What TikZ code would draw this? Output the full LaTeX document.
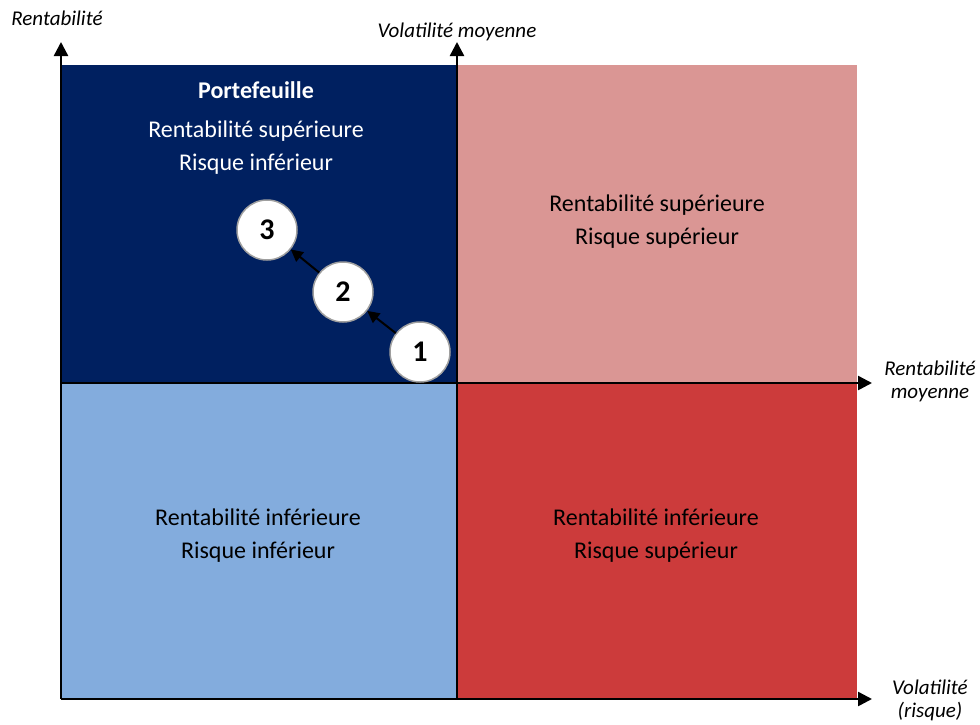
\documentclass[tikz,border=0pt]{standalone}
\usepackage{fontspec}
\setmainfont{Carlito}
\usepackage{xcolor}
\usepackage{tikz}
\usetikzlibrary{positioning, arrows.meta, calc}

\definecolor{navy}{HTML}{002060}
\definecolor{rose}{HTML}{DA9694}
\definecolor{ciel}{HTML}{83ACDD}
\definecolor{rouge}{HTML}{CC3B3B}

\begin{document}
\begin{tikzpicture}[x=1pt, y=-1pt,
  quad/.style={rectangle, inner sep=0pt, minimum width=396pt, minimum height=318pt},
  qtext/.style={align=center, font=\fontsize{24}{33}\selectfont},
  axis/.style={-{Triangle[length=14pt, width=14pt]}, line width=2.5pt},
  axlabel/.style={align=center, font=\fontsize{21}{23}\selectfont\itshape},
  etape/.style={circle, draw=gray!75, line width=1.5pt, fill=white, minimum size=60pt,
    inner sep=0pt, font=\fontsize{30}{30}\selectfont\bfseries},
  fleche/.style={-{Triangle[length=12pt, width=12pt]}, line width=2pt}
]
  \useasboundingbox (0,0) rectangle (980,724);

  % quadrants
  \node[quad, fill=navy] (tl) at (259,224) {};
  \node[quad, fill=rose, minimum width=400pt] (tr) at (657,224) {};
  \node[quad, fill=ciel, minimum height=316pt] (bl) at (259,541) {};
  \node[quad, fill=rouge, minimum width=400pt, minimum height=316pt] (br) at (657,541) {};

  \node[qtext, font=\fontsize{24}{33}\selectfont\bfseries, text=white] (titre) at (256,90) {Portefeuille};
  \node[qtext, text=white] (tltxt) at (256,148) {Rentabilité supérieure\\Risque inférieur};
  \node[qtext] (trtxt) at (657,222) {Rentabilité supérieure\\Risque supérieur};
  \node[qtext] (bltxt) at (258,536) {Rentabilité inférieure\\Risque inférieur};
  \node[qtext] (brtxt) at (656,536) {Rentabilité inférieure\\Risque supérieur};

  % axes
  \coordinate (o) at (61,699);
  \coordinate (ytop) at (61,42);
  \coordinate (xend) at (872,699);
  \coordinate (mbot) at (457,699);
  \coordinate (mtop) at (457,42);
  \coordinate (mleft) at (61,383);
  \coordinate (mright) at (872,383);

  \draw[axis] (o) -- (ytop);
  \draw[axis] (o) -- (xend);
  \draw[axis] (mbot) -- (mtop);
  \draw[axis] (mleft) -- (mright);

  \node[axlabel] (ly) at (57,18) {Rentabilité};
  \node[axlabel] (lm) at (457,32) {Volatilité moyenne};
  \node[axlabel] (lr) at (930,381) {Rentabilité\\moyenne};
  \node[axlabel] (lx) at (930,700) {Volatilité\\(risque)};

  % etapes
  \node[etape] (e1) at (420,352) {1};
  \node[etape] (e2) at (343,292) {2};
  \node[etape] (e3) at (267,230) {3};

  \draw[fleche] (e1) -- (e2);
  \draw[fleche] (e2) -- (e3);
\end{tikzpicture}
\end{document}
